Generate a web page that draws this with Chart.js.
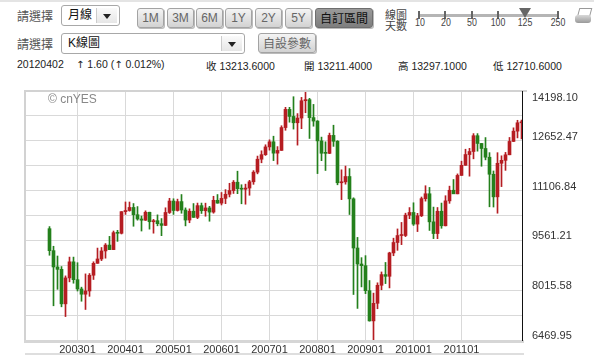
<!DOCTYPE html>
<html>
<head>
<meta charset="utf-8">
<script src="https://cdn.jsdelivr.net/npm/chart.js@4.4.0/dist/chart.umd.min.js"></script>
<style>
  html, body { margin: 0; padding: 0; background: #fff; }
  body { width: 594px; height: 355px; position: relative; overflow: hidden;
         font-family: "Liberation Sans", "Noto Sans CJK TC", sans-serif; color: #333; }
  .abs { position: absolute; }
  .lbl { font-size: 12px; color: #555; font-family: "Noto Sans CJK TC", sans-serif; line-height: 14px; }
  .btn { position: absolute; height: 18px; border: 1px solid #a3a3a3; border-radius: 3px;
         background: linear-gradient(#f4f4f4, #d2d2d2); color: #666; font-size: 12px;
         text-align: center; line-height: 18px; box-shadow: 1px 1px 0 #bbb; }
  .btn.on { background: linear-gradient(#9a9a9a, #7e7e7e); color: #111; border-color: #6e6e6e; }
  .sel { position: absolute; height: 19px; border: 1px solid #a8a8a8; border-radius: 3px; background: #fff;
         font-size: 12px; line-height: 19px; color: #111; }
  .sel .t { position: absolute; left: 6px; top: 0; font-family: "Liberation Sans", "Noto Sans CJK TC", sans-serif; }
  .sel .arr { position: absolute; top: 2px; bottom: 2px; right: 2px; width: 20px; border-left: 1px solid #ccc;
              background: linear-gradient(#fafafa, #e6e6e6); }
  .sel .arr:after { content: ""; position: absolute; left: 6px; top: 6px; border-left: 4px solid transparent;
                    border-right: 4px solid transparent; border-top: 5px solid #222; }
  .info { position: absolute; top: 58px; font-size: 10.5px; color: #222; white-space: nowrap; }
  .info .ar { font-family: "DejaVu Sans", sans-serif; color: #222; font-size: 10px; }
  .tick { position: absolute; top: 11px; width: 2px; height: 8px; background: #666; }
  .num { position: absolute; top: 16px; font-size: 11px; color: #444; transform: translateX(-50%) scaleX(0.8); }
</style>
</head>
<body>
<div class="abs" style="left:0;top:0;width:594px;height:2px;background:#e4e4e4"></div>

<!-- row 1 -->
<div class="abs lbl" style="left:17px;top:9px">請選擇</div>
<div class="sel" style="left:61px;top:5px;width:57px"><span class="t">月線</span><span class="arr"></span></div>
<div class="btn" style="left:137px;top:8px;width:25px">1M</div>
<div class="btn" style="left:167px;top:8px;width:25px">3M</div>
<div class="btn" style="left:196px;top:8px;width:25px">6M</div>
<div class="btn" style="left:225px;top:8px;width:25px">1Y</div>
<div class="btn" style="left:255px;top:8px;width:25px">2Y</div>
<div class="btn" style="left:285px;top:8px;width:25px">5Y</div>
<div class="btn on" style="left:315px;top:8px;width:56px;font-family:'Noto Sans CJK TC',sans-serif">自訂區間</div>

<div class="abs lbl" style="left:385px;top:9px;font-size:11px;line-height:11px;color:#444">線圖<br>天數</div>
<div class="abs" style="left:419px;top:14px;width:140px;height:3px;background:#b5b5b5"></div>
<div class="tick" style="left:418px"></div>
<div class="tick" style="left:444px"></div>
<div class="tick" style="left:471px"></div>
<div class="tick" style="left:497px"></div>
<div class="tick" style="left:557px"></div>
<div class="abs" style="left:519px;top:8px;width:0;height:0;border-left:6px solid transparent;border-right:6px solid transparent;border-top:10px solid #666"></div>
<div class="num" style="left:420px">10</div>
<div class="num" style="left:446px">20</div>
<div class="num" style="left:472px">50</div>
<div class="num" style="left:498px">100</div>
<div class="num" style="left:525px">125</div>
<div class="num" style="left:558px">250</div>

<div class="abs" style="left:578px;top:8px;width:11px;height:8px;border:1px solid #999;background:#fff;transform:skewX(-15deg)"></div>
<div class="abs" style="left:575px;top:15px;width:16px;height:8px;border-radius:3px;background:linear-gradient(#d8d8d8,#9a9a9a)"></div>

<!-- row 2 -->
<div class="abs lbl" style="left:17px;top:37px">請選擇</div>
<div class="sel" style="left:61px;top:33px;width:182px"><span class="t">K線圖</span><span class="arr"></span></div>
<div class="btn" style="left:258px;top:33px;width:56px;font-family:'Noto Sans CJK TC',sans-serif">自設參數</div>

<!-- row 3 -->
<div class="info" style="left:17px">20120402</div>
<div class="info" style="left:76px"><span class="ar">↑</span> 1.60 (<span class="ar">↑</span> 0.012%)</div>
<div class="info" style="left:206px">收 13213.6000</div>
<div class="info" style="left:304px">開 13211.4000</div>
<div class="info" style="left:398px">高 13297.1000</div>
<div class="info" style="left:493px">低 12710.6000</div>

<div class="abs" style="left:0;top:85px;width:594px;height:270px">
  <canvas id="kChart"></canvas>
</div>

<script>
// monthly K bars, 2002-06 .. 2012-04
const months = [];
for (let y = 2002, m = 6; y < 2012 || (y === 2012 && m <= 4); m++) {
    if (m > 12) { m = 1; y++; }
    if (y === 2012 && m > 4) break;
    months.push(y + String(m).padStart(2, '0'));
}

const openVals = [
    9925, 9243, 8737, 8663, 7592, 8397, 8896,
    8342, 8054, 7891, 7992, 8480, 8850, 8985, 9234, 9416, 9275, 9801, 9782,
    10454, 10488, 10584, 10358, 10226, 10188, 10435, 10140, 10174, 10080, 10027, 10428,
    10783, 10490, 10766, 10504, 10193, 10467, 10275, 10641, 10482, 10569, 10440, 10806,
    10718, 10865, 10993, 11109, 11367, 11168, 11150, 11186, 11381, 11679, 12081, 12222,
    12463, 12622, 12269, 12354, 13063, 13628, 13409, 13212, 13358, 13896, 13930, 13372,
    13265, 12650, 12266, 12263, 12820, 12638, 11350, 11378, 11544, 10851, 9325, 8829,
    8776, 8001, 7063, 7609, 8168, 8500, 8447, 9172, 9496, 9712, 9713, 10345,
    10428, 10067, 10325, 10857, 11009, 10137, 9774, 10466, 10015, 10788, 11118, 11006,
    11578, 11892, 12226, 12320, 12811, 12570, 12414, 12143, 11614, 10913, 11955, 12046,
    12218, 12633, 12952, 13211.4
];
const highVals = [
    9990, 9380, 9077, 8750, 8460, 9043, 9043,
    8869, 8110, 8522, 8533, 8898, 9323, 9341, 9464, 9686, 9853, 9873, 10454,
    10754, 10753, 10705, 10611, 10317, 10479, 10437, 10213, 10354, 10239, 10573, 10868,
    10854, 10842, 10985, 10570, 10541, 10705, 10720, 10720, 10717, 10619, 10931, 10985,
    11048, 11137, 11334, 11420, 11709, 11289, 11307, 11425, 11727, 12178, 12342, 12529,
    12683, 12795, 12472, 13120, 13692, 13692, 14021, 13497, 14000, 14198.1, 13970, 13782,
    13279, 12767, 12622, 12891, 13136, 12657, 11752, 11868, 11790, 10883, 9654, 9026,
    9088, 8316, 7925, 8245, 8582, 8877, 9194, 9630, 9917, 10119, 10406, 10580,
    10729, 10402, 10908, 11258, 11205, 10595, 10582, 10720, 10948, 11245, 11451, 11625,
    12020, 12391, 12419, 12876, 12876, 12570, 12753, 12285, 11716, 12284, 12187, 12293,
    12756, 13055, 13289, 13297.1
];
const lowVals = [
    9100, 7532, 8043, 7500, 7197, 8275, 8232,
    7990, 7673, 7417, 7826, 8348, 8850, 8934, 9009, 9275, 9275, 9531, 9760,
    10368, 10468, 10000, 10189, 9852, 10180, 9911, 9785, 10014, 9708, 10022, 10397,
    10368, 10470, 10404, 10012, 10109, 10275, 10235, 10397, 10311, 10156, 10405, 10714,
    10661, 10701, 10910, 11018, 11011, 10698, 10684, 10962, 11301, 11627, 11970, 12198,
    12362, 12038, 11926, 12354, 12979, 13230, 13016, 12518, 13029, 13524, 12725, 13105,
    11635, 12036, 11731, 12253, 12479, 11287, 10827, 11306, 10365, 7882, 7450, 8118,
    7909, 7055, 6469.95, 7440, 8029, 8221, 8087, 9085, 9253, 9430, 9679, 10236,
    10025, 9835, 10300, 10780, 9870, 9616, 9614, 9937, 10010, 10711, 11011, 11006,
    11578, 11892, 11555, 12093, 12331, 11862, 12061, 10604, 10597, 10405, 11231, 11735,
    12218, 12630, 12743, 12710.6
];
const closeVals = [
    9243, 8737, 8663, 7592, 8397, 8896, 8342,
    8054, 7891, 7992, 8480, 8850, 8985, 9234, 9416, 9275, 9801, 9782, 10454,
    10488, 10584, 10358, 10226, 10188, 10435, 10140, 10174, 10080, 10027, 10428, 10783,
    10490, 10766, 10504, 10193, 10467, 10275, 10641, 10482, 10569, 10440, 10806, 10718,
    10865, 10993, 11109, 11367, 11168, 11150, 11186, 11381, 11679, 12081, 12222, 12463,
    12622, 12269, 12354, 13063, 13628, 13409, 13212, 13358, 13896, 13930, 13372, 13265,
    12650, 12266, 12263, 12820, 12638, 11350, 11378, 11544, 10851, 9325, 8829, 8776,
    8001, 7063, 7609, 8168, 8500, 8447, 9172, 9496, 9712, 9713, 10345, 10428,
    10067, 10325, 10857, 11009, 10137, 9774, 10466, 10015, 10788, 11118, 11006, 11578,
    11892, 12226, 12320, 12811, 12570, 12414, 12143, 11614, 10913, 11955, 12046, 12218,
    12633, 12952, 13212, 13213.6
];

const xTickLabels = ['200301', '200401', '200501', '200601', '200701', '200801', '200901', '201001', '201101'];
const yMin = 6469.95;
const yMax = 14198.10;
const yTickLabels = ['6469.95', '8015.58', '9561.21', '11106.84', '12652.47', '14198.10'];

const UP = '#b51d22';
const DOWN = '#24801c';
const candleColors = closeVals.map((c, i) => c >= openVals[i] ? UP : DOWN);

const wickData = months.map((m, i) => ({ x: i, y: [lowVals[i], highVals[i]] }));
const bodyData = months.map((m, i) => ({
    x: i,
    y: [Math.min(openVals[i], closeVals[i]), Math.max(openVals[i], closeVals[i])]
}));

const xTickIdx = xTickLabels.map(l => months.indexOf(l));
const yStep = (yMax - yMin) / 10;
const yGrid = [];
for (let k = 0; k <= 10; k++) yGrid.push(yMin + k * yStep);

// frame, watermark and right-hand price labels
const framePlugin = {
    id: 'frame',
    afterDraw(chart) {
        const { ctx, chartArea: a, scales } = chart;
        ctx.save();
        ctx.strokeStyle = '#d2d2d2';
        ctx.lineWidth = 2;
        ctx.beginPath();
        ctx.moveTo(a.left, a.bottom + 1);
        ctx.lineTo(a.left, a.top);
        ctx.lineTo(a.right + 5, a.top);
        ctx.stroke();
        ctx.lineWidth = 3;
        ctx.strokeStyle = '#d6d6d6';
        ctx.beginPath();
        ctx.moveTo(a.left - 1, a.bottom + 1.5);
        ctx.lineTo(a.right + 2, a.bottom + 1.5);
        ctx.stroke();
        ctx.lineWidth = 2;
        ctx.strokeStyle = '#dedede';
        ctx.beginPath();
        ctx.moveTo(a.left, chart.height - 1);
        ctx.lineTo(a.right + 2, chart.height - 1);
        ctx.stroke();
        ctx.lineWidth = 1;
        ctx.strokeStyle = '#111';
        ctx.beginPath();
        ctx.moveTo(a.right + 0.5, a.top);
        ctx.lineTo(a.right + 0.5, a.bottom + 1);
        ctx.stroke();

        ctx.fillStyle = '#888';
        ctx.font = '12px "Liberation Sans", sans-serif';
        ctx.textBaseline = 'middle';
        ctx.textAlign = 'left';
        ctx.fillText('© cnYES', a.left + 23, a.top + 9);

        ctx.fillStyle = '#333';
        ctx.font = '11px "Liberation Sans", sans-serif';
        yTickLabels.forEach(t => {
            let y = scales.y.getPixelForValue(parseFloat(t)) - 4;
            if (y < a.top + 7) y = a.top + 7;
            ctx.fillText(t, a.right + 10, y);
        });
        ctx.restore();
    }
};

new Chart(document.getElementById('kChart'), {
    type: 'bar',
    data: {
        datasets: [
            {
                data: wickData,
                backgroundColor: candleColors,
                barThickness: 1,
                grouped: false,
                minBarLength: 1
            },
            {
                data: bodyData,
                backgroundColor: candleColors,
                barThickness: 3,
                grouped: false,
                minBarLength: 1
            }
        ]
    },
    options: {
        responsive: true,
        maintainAspectRatio: false,
        animation: false,
        events: [],
        layout: { padding: { left: 25, top: 6, right: 0, bottom: 0 } },
        plugins: { legend: { display: false }, tooltip: { enabled: false } },
        scales: {
            x: {
                type: 'linear',
                offset: false,
                min: -6.125,
                max: months.length - 1 + 0.125,
                afterBuildTicks: s => { s.ticks = xTickIdx.map(v => ({ value: v })); },
                afterFit: s => { s.height = 15; },
                grid: { color: '#d9d9d9', drawTicks: false, offset: false },
                border: { display: false },
                ticks: {
                    autoSkip: false,
                    maxRotation: 0,
                    padding: 3,
                    color: '#333',
                    font: { family: 'Liberation Sans', size: 11 },
                    callback: v => months[v]
                }
            },
            y: {
                position: 'right',
                min: yMin,
                max: yMax,
                afterBuildTicks: s => { s.ticks = yGrid.map(v => ({ value: v })); },
                afterFit: s => { s.width = 72; },
                grid: { color: '#d9d9d9', drawTicks: false },
                border: { display: false },
                ticks: { display: false }
            }
        }
    },
    plugins: [framePlugin]
});
</script>
</body>
</html>
